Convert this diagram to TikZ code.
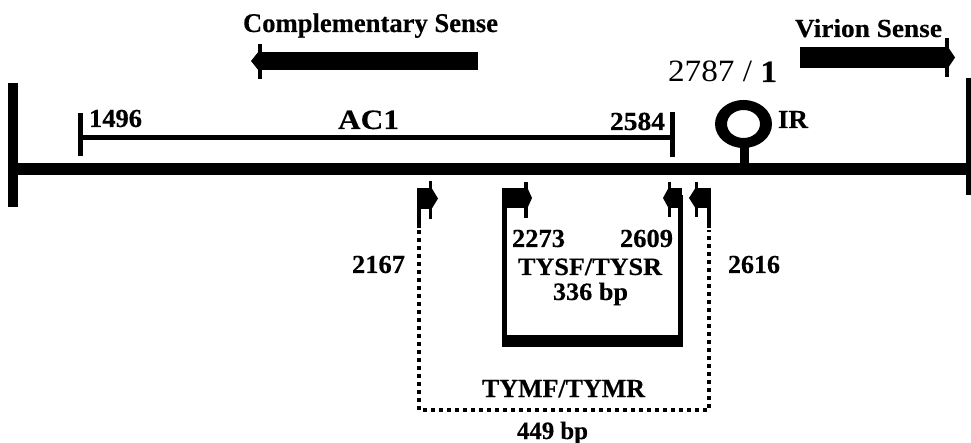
\documentclass[tikz,border=0pt]{standalone}
\usepackage{fontspec}
\setmainfont{Liberation Serif}[BoldFeatures={FakeBold=0.3}]
\usepackage{graphicx}
\newcommand\fitw[2]{\resizebox{#1pt}{\height}{#2}}
\tikzset{
  lbl/.style={anchor=base west, inner sep=0pt, outer sep=0pt, font=\bfseries\fontsize{#1}{#1}\selectfont},
  lbl/.default=26,
  dotline/.style={line width=4pt, dash pattern=on 4pt off 4pt},
}
\begin{document}
\begin{tikzpicture}[x=1pt,y=-1pt]
\useasboundingbox[fill=white] (0,0) rectangle (971,443);
% genome line and end bars
\fill (10,163) rectangle (971,175);
\fill (8,83) rectangle (18,207);
\fill (966,78) rectangle (971,195);
% AC1 gene
\fill (77.5,135.5) rectangle (672.5,140.5);
\fill (77.5,113) rectangle (82.5,156);
\fill (670,112) rectangle (675,157);
% complementary sense arrow
\fill (260,52) rectangle (478,70);
\fill (258,44) rectangle (262,79);
\fill (259,51) -- (251,61) -- (259,71) -- cycle;
% virion sense arrow
\fill (800,47) rectangle (947,68);
\fill (945,38) rectangle (949,77);
\fill (948,47) -- (955,57.5) -- (948,68) -- cycle;
% IR stem loop
\fill[even odd rule] (743.5,124) ellipse [x radius=28.5, y radius=24] (743.5,124) ellipse [x radius=16.5, y radius=14];
\fill (740,146) rectangle (749,164);
% primer 2167
\fill (417,188) rectangle (430,209);
\fill (429,181) rectangle (432,219);
\fill (431,187) -- (438,198.5) -- (431,210) -- cycle;
\fill (417,188) rectangle (421,228);
% primer 2273
\fill (502,188) rectangle (525,208);
\fill (524,182) rectangle (528,218);
\fill (527,187) -- (532,198) -- (527,209) -- cycle;
% primer 2609
\fill (671,188) rectangle (682,208);
\fill (668,182) rectangle (671,217);
\fill (669,187) -- (663,198) -- (669,209) -- cycle;
% primer 2616
\fill (698,188) rectangle (710,208);
\fill (695,182) rectangle (698,217);
\fill (696,187) -- (689,198) -- (696,209) -- cycle;
\fill (707,188) rectangle (711,228);
% TYSF/TYSR product
\fill (502,195) rectangle (507,347);
\fill (502,335) rectangle (683,347);
\fill (678,195) rectangle (683,347);
% TYMF/TYMR product
\draw[dotline] (419,230) -- (419,410) -- (709,410) -- (709,230);
% labels
\node[lbl=27] (comp) at (243,32) {\fitw{255}{Complementary Sense}};
\node[lbl=26] (vir) at (795,37) {\fitw{147}{Virion Sense}};
\node[lbl=31] (ori) at (668,82) {\fitw{109}{\mdseries 2787 / \bfseries 1}};
\node[lbl=26] (n1496) at (89,127) {\fitw{53}{1496}};
\node[lbl=28] (ac1) at (338,129) {\fitw{61}{AC1}};
\node[lbl=26] (n2584) at (610,130) {\fitw{55}{2584}};
\node[lbl=26] (ir) at (778,128) {\fitw{30}{IR}};
\node[lbl=26] (n2273) at (512,247) {\fitw{53}{2273}};
\node[lbl=26] (n2609) at (620,247) {\fitw{53}{2609}};
\node[lbl=26] (n2167) at (352,273) {\fitw{53}{2167}};
\node[lbl=26] (n2616) at (728,273) {\fitw{52}{2616}};
\node[lbl=25] (tys) at (518,275) {\fitw{144}{TYSF/TYSR}};
\node[lbl=25] (b336) at (553,300) {\fitw{75}{336 bp}};
\node[lbl=26] (tym) at (482,397) {\fitw{163}{TYMF/TYMR}};
\node[lbl=25] (b449) at (517,439) {\fitw{71}{449 bp}};
\end{tikzpicture}
\end{document}
